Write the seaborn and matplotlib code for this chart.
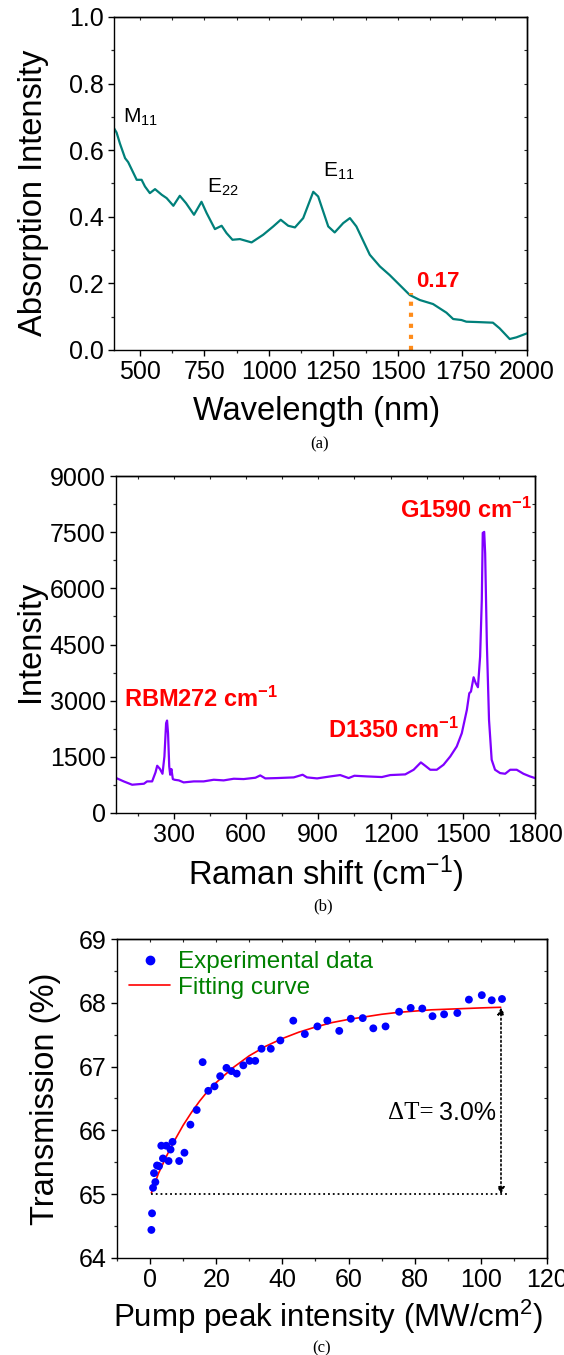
import numpy as np
import pandas as pd
import matplotlib
matplotlib.use('Agg')
import matplotlib.pyplot as plt
from matplotlib.ticker import MultipleLocator
from matplotlib.lines import Line2D
import seaborn as sns

# (a) absorption spectrum
wl = [400, 410, 423, 443, 455, 488, 507, 520, 539, 559, 585, 604, 630, 655, 679, 710,
      739, 759, 791, 817, 836, 859, 888, 933, 978, 1017, 1046, 1075, 1101, 1133, 1172,
      1191, 1230, 1255, 1288, 1314, 1339, 1391, 1430, 1468, 1507, 1546, 1585, 1636,
      1688, 1714, 1746, 1765, 1804, 1868, 1894, 1933, 1959, 2000]
absorb = [0.666, 0.653, 0.620, 0.576, 0.564, 0.511, 0.511, 0.491, 0.471, 0.483, 0.466,
          0.456, 0.433, 0.463, 0.441, 0.406, 0.445, 0.411, 0.363, 0.373, 0.351, 0.331,
          0.333, 0.323, 0.346, 0.371, 0.391, 0.373, 0.368, 0.396, 0.475, 0.461, 0.371,
          0.353, 0.381, 0.396, 0.371, 0.286, 0.251, 0.225, 0.195, 0.165, 0.150, 0.138,
          0.112, 0.093, 0.090, 0.085, 0.084, 0.082, 0.065, 0.033, 0.038, 0.050]
mark_wl = 1550
mark_val = 0.17

# (b) Raman spectrum
shift = [61, 92, 127, 176, 189, 210, 224, 231, 242, 253, 261, 268, 272, 276, 281, 285,
         290, 296, 303, 321, 341, 383, 424, 466, 507, 549, 590, 639, 659, 680, 729, 798,
         835, 853, 895, 950, 991, 1026, 1050, 1102, 1164, 1199, 1261, 1296, 1326, 1344,
         1365, 1392, 1420, 1448, 1475, 1496, 1517, 1527, 1534, 1545, 1554, 1563, 1572,
         1579, 1583, 1589, 1593, 1600, 1609, 1620, 1634, 1655, 1676, 1697, 1724, 1752,
         1779, 1800]
raman = [933, 844, 755, 782, 844, 844, 1084, 1262, 1182, 1048, 1510, 2399, 2470, 2132,
         1244, 1022, 1173, 906, 888, 871, 817, 844, 844, 888, 871, 915, 906, 942, 1004,
         924, 933, 951, 1022, 951, 924, 977, 1013, 933, 995, 977, 960, 1013, 1031, 1155,
         1351, 1262, 1155, 1155, 1288, 1510, 1777, 2132, 2754, 3198, 3243, 3625, 3465,
         3359, 4176, 5686, 7481, 7508, 6930, 4531, 2488, 1422, 1155, 1066, 1048, 1155,
         1155, 1048, 977, 933]

# (c) saturable absorption
pump = [0.4, 0.6, 0.9, 1.6, 1.2, 2.1, 2.7, 3.4, 3.9, 4.9, 5.6, 6.2, 6.8, 8.8, 10.4,
        12.2, 14.1, 15.9, 17.6, 19.5, 21.2, 23.1, 24.6, 26.2, 28.2, 30.1, 31.8, 33.7,
        36.5, 39.4, 43.3, 46.8, 50.6, 53.6, 57.2, 60.7, 64.3, 67.5, 71.2, 75.3, 78.8,
        82.3, 85.4, 88.9, 92.9, 96.4, 100.3, 103.3, 106.4]
trans = [64.44, 64.70, 65.10, 65.19, 65.33, 65.45, 65.44, 65.76, 65.56, 65.76, 65.52,
         65.70, 65.82, 65.52, 65.65, 66.09, 66.32, 67.07, 66.62, 66.69, 66.85, 66.98,
         66.93, 66.89, 67.02, 67.09, 67.09, 67.28, 67.28, 67.41, 67.72, 67.51, 67.63,
         67.72, 67.56, 67.75, 67.76, 67.60, 67.63, 67.86, 67.92, 67.91, 67.79, 67.82,
         67.84, 68.05, 68.12, 68.04, 68.06]
fit_x = [0.4, 2.5, 5, 7.5, 10, 12.5, 15, 17.5, 20, 25, 30, 35, 40, 45, 50, 55, 60, 65,
         70, 75, 80, 85, 90, 95, 100, 106]
fit_y = [65.02, 65.32, 65.60, 65.85, 66.08, 66.28, 66.46, 66.62, 66.75, 66.98, 67.17,
         67.32, 67.44, 67.54, 67.62, 67.69, 67.74, 67.78, 67.82, 67.85, 67.87, 67.89,
         67.90, 67.91, 67.92, 67.93]
t_low = 65.0
t_high = 67.93

sns.set_style('ticks')
plt.rcParams['font.family'] = ['Liberation Sans', 'DejaVu Sans']
plt.rcParams['mathtext.fontset'] = 'custom'
plt.rcParams['mathtext.rm'] = 'Liberation Sans'
plt.rcParams['mathtext.it'] = 'Liberation Sans:italic'
plt.rcParams['mathtext.bf'] = 'Liberation Sans:bold'
plt.rcParams['axes.linewidth'] = 1.0
plt.rcParams['axes.edgecolor'] = 'black'
plt.rcParams['axes.labelcolor'] = 'black'
plt.rcParams['text.color'] = 'black'

fig = plt.figure(figsize=(5.64, 13.55), dpi=100)
ax1 = fig.add_axes([0.2021, 0.7417, 0.7323, 0.2458])
ax2 = fig.add_axes([0.2057, 0.4000, 0.7429, 0.2487])
ax3 = fig.add_axes([0.2074, 0.0716, 0.7624, 0.2354])


def style_axis(ax, xmaj, xmin, ymaj, ymin):
    ax.xaxis.set_major_locator(MultipleLocator(xmaj))
    ax.xaxis.set_minor_locator(MultipleLocator(xmin))
    ax.yaxis.set_major_locator(MultipleLocator(ymaj))
    ax.yaxis.set_minor_locator(MultipleLocator(ymin))
    ax.tick_params(which='major', direction='out', length=4.5, width=1.0,
                   labelsize=18, colors='black', pad=3)
    ax.tick_params(which='minor', direction='out', length=2.5, width=0.9)
    for sp in ax.spines.values():
        sp.set_visible(True)
        sp.set_color('black')
    top = ax.secondary_xaxis('top')
    top.xaxis.set_major_locator(MultipleLocator(xmaj))
    top.xaxis.set_minor_locator(MultipleLocator(xmin))
    top.tick_params(which='both', direction='in', length=2, width=0.8, labeltop=False)
    right = ax.secondary_yaxis('right')
    right.yaxis.set_major_locator(MultipleLocator(ymaj))
    right.yaxis.set_minor_locator(MultipleLocator(ymin))
    right.tick_params(which='both', direction='in', length=2, width=0.8, labelright=False)


def place_labels(ax, xl, yl, xy_x, xy_y, yl_x, yl_y, xsize=23.5, ysize=23.5):
    ax.set_xlabel(xl, fontsize=xsize)
    ax.set_ylabel(yl, fontsize=ysize)
    ax.xaxis.set_label_coords(xy_x, xy_y)
    ax.xaxis.label.set_verticalalignment('baseline')
    ax.yaxis.set_label_coords(yl_x, yl_y)
    ax.yaxis.label.set_verticalalignment('center')


# ---- (a)
df_a = pd.DataFrame({'wl': wl, 'a': absorb})
sns.lineplot(data=df_a, x='wl', y='a', ax=ax1, color='#00807a', lw=1.6)
ax1.plot([mark_wl, mark_wl], [0, mark_val], ls=':', color='#ff8c1a', lw=3)
ax1.set_xlim(400, 2000)
ax1.set_ylim(0, 1.0)
style_axis(ax1, 250, 125, 0.2, 0.1)
place_labels(ax1, 'Wavelength (nm)', 'Absorption Intensity',
             0.49, -0.210, -0.196, 0.473)
ax1.text(436, 0.682, r'M$_{11}$', fontsize=15)
ax1.text(760, 0.472, r'E$_{22}$', fontsize=15)
ax1.text(1208, 0.52, r'E$_{11}$', fontsize=15)
ax1.text(1572, 0.19, '0.17', fontsize=16, color='red', fontweight='bold')
fig.text(0.567, 1 - 444 / 1355, '(a)', ha='center', va='center',
         fontsize=12, family='Liberation Serif')

# ---- (b)
df_b = pd.DataFrame({'shift': shift, 'i': raman})
sns.lineplot(data=df_b, x='shift', y='i', ax=ax2, color='#8000ff', lw=1.6)
ax2.set_xlim(60, 1800)
ax2.set_ylim(0, 9000)
style_axis(ax2, 300, 150, 1500, 750)
place_labels(ax2, r'Raman shift (cm$^{-1}$)', 'Intensity',
             0.5, -0.214, -0.205, 0.51)
ax2.text(92, 2830, r'RBM272 cm$^{\mathbf{-1}}$', fontsize=17, color='red', fontweight='bold')
ax2.text(940, 2000, r'D1350 cm$^{\mathbf{-1}}$', fontsize=17, color='red', fontweight='bold')
ax2.text(1240, 7870, r'G1590 cm$^{\mathbf{-1}}$', fontsize=17, color='red', fontweight='bold')
fig.text(0.573, 1 - 906 / 1355, '(b)', ha='center', va='center',
         fontsize=12, family='Liberation Serif')

# ---- (c)
df_c = pd.DataFrame({'pump': pump, 't': trans})
df_fit = pd.DataFrame({'x': fit_x, 'y': fit_y})
sns.scatterplot(data=df_c, x='pump', y='t', ax=ax3, color='#0000ff', s=32,
                edgecolor='none', zorder=3)
sns.lineplot(data=df_fit, x='x', y='y', ax=ax3, color='red', lw=1.2, zorder=2)
ax3.plot([fit_x[0], 108], [t_low, t_low], ls=':', color='black', lw=1.3)
ax3.annotate('', xy=(106.1, t_high), xytext=(106.1, t_low),
             arrowprops=dict(arrowstyle='<|-|>', ls=':', color='black', lw=1.2,
                             mutation_scale=10, shrinkA=0, shrinkB=0))
ax3.text(85.7, 66.27, u'\u0394T=', fontsize=18, family='Liberation Serif',
         ha='right', va='center')
ax3.text(87.3, 66.27, '3.0%', fontsize=18, ha='left', va='center')
ax3.set_xlim(-10, 120)
ax3.set_ylim(64, 69)
style_axis(ax3, 20, 10, 1, 0.5)
place_labels(ax3, r'Pump peak intensity (MW/cm$^{2}$)', 'Transmission (%)',
             0.49, -0.216, -0.167, 0.50, xsize=22.5)
handles = [Line2D([], [], marker='o', ls='none', color='#0000ff', markersize=6),
           Line2D([], [], color='red', lw=1.2)]
ax3.legend(handles, ['Experimental data', 'Fitting curve'], loc='upper left',
           frameon=False, fontsize=17.5, labelcolor='#008000', handlelength=1.7,
           handletextpad=0.3, borderaxespad=0.1, labelspacing=0.15)
fig.text(0.571, 1 - 1348 / 1355, '(c)', ha='center', va='center',
         fontsize=12, family='Liberation Serif')

fig.savefig('out.png', dpi=100)
